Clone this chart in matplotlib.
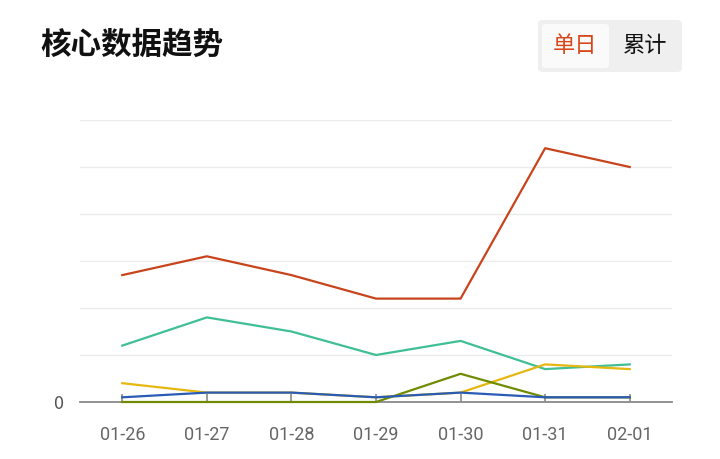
import matplotlib
matplotlib.use('Agg')
import matplotlib.pyplot as plt
from matplotlib.patches import FancyBboxPatch

plt.rcParams['font.family'] = ['Noto Sans CJK SC', 'DejaVu Sans']

# 数据
dates = ['01-26', '01-27', '01-28', '01-29', '01-30', '01-31', '02-01']
red = [54, 62, 54, 44, 44, 108, 100]
teal = [24, 36, 30, 20, 26, 14, 16]
yellow = [8, 4, 4, 2, 4, 16, 14]
blue = [2, 4, 4, 2, 4, 2, 2]
green = [0, 0, 0, 0, 12, 2, 2]

fig = plt.figure(figsize=[7.2, 4.59], dpi=100)
W, H = 720, 459
ax = fig.add_axes([80 / W, 1 - 402 / H, 592 / W, 282 / H])

x = range(len(dates))
ax.plot(x, red, color='#c8441c', lw=1.6, zorder=3)
ax.plot(x, teal, color='#3fbf93', lw=1.6, zorder=3)
ax.plot(x, yellow, color='#e6b70e', lw=1.6, zorder=3)
ax.plot(x, green, color='#6f8c00', lw=1.6, zorder=3.5, clip_on=False)
ax.plot(x, blue, color='#2a5bb5', lw=1.6, zorder=4)

ax.set_xlim(-0.5, 6.5)
ax.set_ylim(0, 120)
ax.set_yticks(range(0, 121, 20))
ax.set_yticklabels(['0'] + [''] * 6)
ax.grid(axis='y', color='#ebebeb', lw=1)
ax.set_axisbelow(True)
for s in ['top', 'right', 'left']:
    ax.spines[s].set_visible(False)
ax.spines['bottom'].set_color('#8a8a8a')
ax.spines['bottom'].set_linewidth(1.3)
ax.tick_params(axis='y', length=0, pad=12, labelsize=13, labelcolor='#555555')
ax.set_xticks(list(x))
ax.set_xticklabels(dates, fontfamily='Roboto', fontsize=13, color='#666666')
ax.tick_params(axis='x', direction='in', length=6, color='#8a8a8a', width=1.2, pad=17)

# 标题
fig.text(40 / W, 1 - 45 / H, '核心数据趋势', fontsize=22, fontweight='bold',
         va='center', ha='left', color='#111111')

# 切换按钮
box = FancyBboxPatch((538 / W, 1 - 72 / H), 144 / W, 52 / H,
                     boxstyle='round,pad=0,rounding_size=0.008',
                     transform=fig.transFigure, fc='#efefef', ec='none')
fig.add_artist(box)
inner = FancyBboxPatch((542 / W, 1 - 68 / H), 67 / W, 44 / H,
                       boxstyle='round,pad=0,rounding_size=0.006',
                       transform=fig.transFigure, fc='#fafafa', ec='none')
fig.add_artist(inner)
fig.text(575 / W, 1 - 46 / H, '单日', fontsize=16, color='#d8461a',
         ha='center', va='center', fontweight='medium')
fig.text(645 / W, 1 - 46 / H, '累计', fontsize=16, color='#111111',
         ha='center', va='center', fontweight='medium')

fig.savefig('out.png', dpi=100)
